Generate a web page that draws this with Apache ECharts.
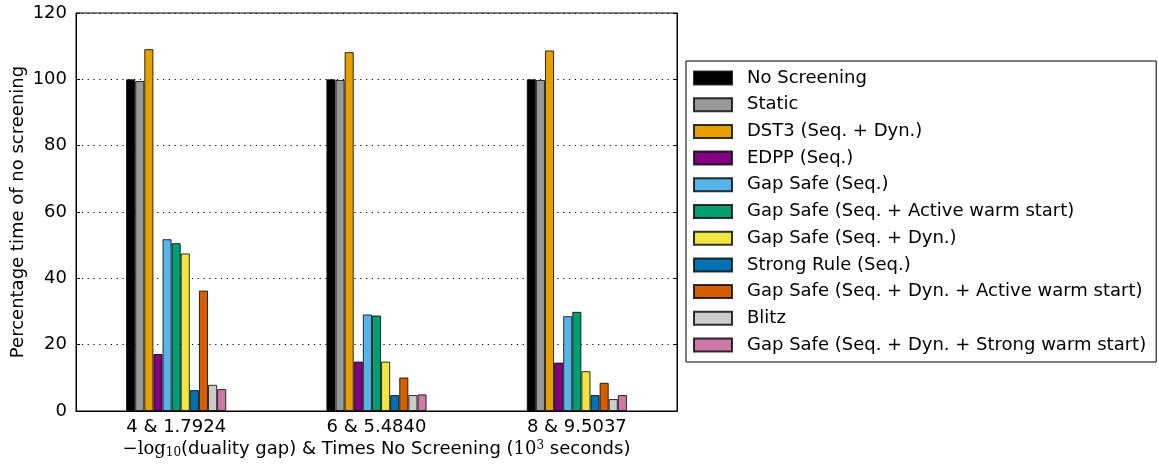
<!DOCTYPE html>
<html>
<head>
<meta charset="utf-8">
<script src="https://cdn.jsdelivr.net/npm/echarts@6/dist/echarts.min.js"></script>
<style>
  html, body { margin: 0; padding: 0; background: #fff; }
  #chart { width: 1159px; height: 468px; }
</style>
</head>
<body>
<div id="chart"></div>
<script>
// categories on x axis
const categories = ['4 & 1.7924', '6 & 5.4840', '8 & 9.5037']

// legend names, one per method
const methods = [
  'No Screening',
  'Static',
  'DST3 (Seq. + Dyn.)',
  'EDPP (Seq.)',
  'Gap Safe (Seq.)',
  'Gap Safe (Seq. + Active warm start)',
  'Gap Safe (Seq. + Dyn.)',
  'Strong Rule (Seq.)',
  'Gap Safe (Seq. + Dyn. + Active warm start)',
  'Blitz',
  'Gap Safe (Seq. + Dyn. + Strong warm start)'
]

// percentage time of no screening, per method
const noScreening = [100, 100, 100]
const staticRule = [99.5, 99.8, 99.8]
const dst3 = [109.1, 108.2, 108.7]
const edpp = [17.2, 14.9, 14.6]
const gapSafeSeq = [51.8, 29.1, 28.6]
const gapSafeActive = [50.6, 28.8, 29.9]
const gapSafeDyn = [47.5, 14.9, 12.0]
const strongRule = [6.3, 4.8, 4.8]
const gapSafeDynActive = [36.3, 10.1, 8.5]
const blitz = [7.9, 4.8, 3.6]
const gapSafeDynStrong = [6.6, 5.0, 4.8]

const values = [noScreening, staticRule, dst3, edpp, gapSafeSeq, gapSafeActive,
  gapSafeDyn, strongRule, gapSafeDynActive, blitz, gapSafeDynStrong]

const colors = ['#000000', '#999999', '#E69F00', '#800080', '#56B4E9', '#009E73',
  '#F0E442', '#0072B2', '#D55E00', '#CCCCCC', '#CC79A7']

const yTicks = [0, 20, 40, 60, 80, 100, 120]

const chart = echarts.init(document.getElementById('chart'))

const series = []
for (let k = 0; k < methods.length; k++) {
  series.push({
    name: methods[k],
    type: 'bar',
    data: values[k],
    barGap: 0,
    barCategoryGap: '50%',
    itemStyle: {
      color: colors[k],
      borderColor: 'rgba(0,0,0,0.8)',
      borderWidth: 1
    }
  })
}

const font = 'DejaVu Sans'

const option = {
  animation: false,
  color: colors,
  textStyle: { fontFamily: font },
  grid: {
    left: 76,
    right: 482,
    top: 13,
    bottom: 57,
    containLabel: false,
    outerBoundsMode: 'none',
    show: true,
    borderColor: '#000',
    borderWidth: 1
  },
  legend: {
    orient: 'vertical',
    left: 686,
    top: 61,
    data: methods,
    icon: 'rect',
    itemWidth: 38,
    itemHeight: 13,
    itemGap: 8.7,
    padding: [8, 10, 8, 7],
    borderColor: '#000',
    borderWidth: 1,
    backgroundColor: '#fff',
    selectedMode: false,
    textStyle: {
      fontFamily: font,
      fontSize: 18,
      lineHeight: 18,
      color: '#000',
      padding: [0, 0, 0, 10]
    }
  },
  xAxis: {
    type: 'category',
    data: categories,
    axisLine: { show: true, lineStyle: { color: '#000' } },
    axisTick: { show: true, inside: true, alignWithLabel: true, length: 4, lineStyle: { color: '#000' } },
    axisLabel: { fontFamily: font, fontSize: 18, color: '#000', margin: 7 },
    nameLocation: 'middle',
    nameGap: 29,
    nameMoveOverlap: false,
    name: '{m|\u2212log}{sub|10}{t|(duality gap) & Times No Screening (}{m|10}{sup|3}{t| seconds)}',
    nameTextStyle: {
      rich: {
        m: { fontFamily: 'DejaVu Serif', fontSize: 18, color: '#000' },
        t: { fontFamily: font, fontSize: 18, color: '#000' },
        sub: { fontFamily: 'DejaVu Serif', fontSize: 12, color: '#000', verticalAlign: 'bottom', padding: [7, 0, 0, 0] },
        sup: { fontFamily: 'DejaVu Serif', fontSize: 12, color: '#000', verticalAlign: 'top', padding: [0, 0, 7, 0] }
      }
    }
  },
  yAxis: [
    {
      type: 'value',
      min: 0,
      max: 120,
      interval: 20,
      name: 'Percentage time of no screening',
      nameLocation: 'middle',
      nameGap: 49,
      nameMoveOverlap: false,
      nameTextStyle: { fontFamily: font, fontSize: 18, color: '#000' },
      axisLine: { show: true, lineStyle: { color: '#000' } },
      axisTick: { show: true, inside: true, length: 4, lineStyle: { color: '#000' } },
      axisLabel: {
        fontFamily: font,
        fontSize: 18,
        color: '#000',
        margin: 9,
        formatter: function(v) { return yTicks.indexOf(v) >= 0 ? String(v) : '' }
      },
      splitLine: { show: true, lineStyle: { color: '#000', type: [1.2, 4.6], width: 1 } }
    },
    {
      type: 'value',
      min: 0,
      max: 120,
      interval: 20,
      position: 'right',
      axisLine: { show: true, lineStyle: { color: '#000' } },
      axisTick: { show: true, inside: true, length: 4, lineStyle: { color: '#000' } },
      axisLabel: { show: false },
      splitLine: { show: false }
    }
  ],
  series: series
}
chart.setOption(option)
</script>
</body>
</html>
